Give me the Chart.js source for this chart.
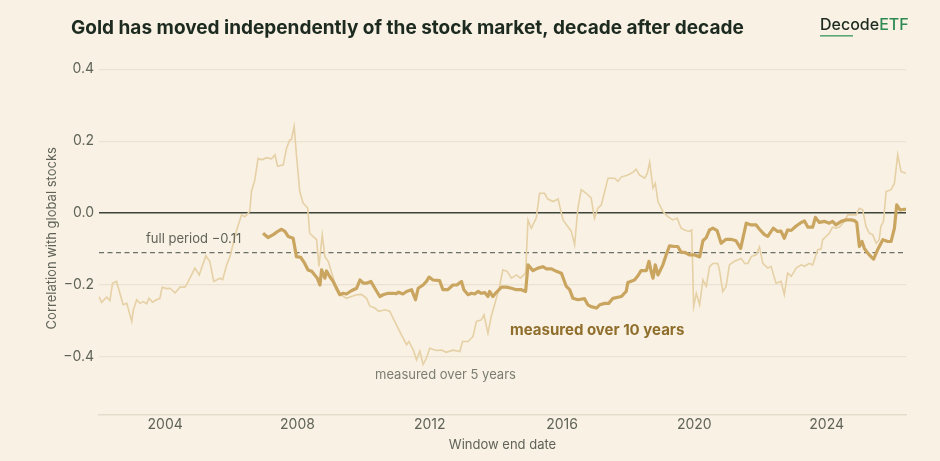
<!DOCTYPE html>
<html>
<head>
<meta charset="utf-8">
<script src="https://cdn.jsdelivr.net/npm/chart.js@4.4.1/dist/chart.umd.min.js"></script>
<style>
  html, body { margin: 0; padding: 0; background: #f9f1e3; }
  #wrap { width: 940px; height: 461px; position: relative; }
</style>
</head>
<body>
<div id="wrap"><canvas id="grafico"></canvas></div>
<script>
// rolling correlation of gold vs global stocks, by window end date (decimal years)
const fiveYearDates = [
  2002.00, 2002.08, 2002.23, 2002.33, 2002.41, 2002.53, 2002.73, 2002.84, 2002.99, 2003.04,
  2003.14, 2003.24, 2003.34, 2003.44, 2003.51, 2003.62, 2003.74, 2003.84, 2003.91, 2004.05,
  2004.15, 2004.30, 2004.45, 2004.60, 2004.70, 2004.90, 2005.03, 2005.23, 2005.35, 2005.47,
  2005.66, 2005.74, 2005.86, 2005.96, 2006.06, 2006.17, 2006.31, 2006.41, 2006.56, 2006.61,
  2006.71, 2006.81, 2006.92, 2007.07, 2007.22, 2007.32, 2007.40, 2007.57, 2007.67, 2007.77,
  2007.82, 2007.90, 2007.97, 2008.07, 2008.17, 2008.31, 2008.37, 2008.47, 2008.58, 2008.65,
  2008.75, 2008.83, 2008.93, 2009.13, 2009.31, 2009.48, 2009.63, 2009.79, 2009.94, 2010.09,
  2010.19, 2010.34, 2010.46, 2010.64, 2010.79, 2010.94, 2011.04, 2011.14, 2011.30, 2011.37,
  2011.50, 2011.60, 2011.70, 2011.80, 2011.90, 2012.00, 2012.20, 2012.35, 2012.50, 2012.70,
  2012.91, 2012.99, 2013.16, 2013.31, 2013.41, 2013.56, 2013.64, 2013.76, 2013.86, 2013.96,
  2014.11, 2014.21, 2014.34, 2014.47, 2014.62, 2014.74, 2014.90, 2014.97, 2015.07, 2015.22,
  2015.32, 2015.47, 2015.57, 2015.73, 2015.88, 2016.03, 2016.28, 2016.38, 2016.48, 2016.58,
  2016.73, 2016.88, 2016.98, 2017.08, 2017.19, 2017.39, 2017.59, 2017.69, 2017.79, 2017.99,
  2018.14, 2018.24, 2018.34, 2018.50, 2018.58, 2018.65, 2018.75, 2018.82, 2018.90, 2019.05,
  2019.20, 2019.35, 2019.48, 2019.60, 2019.70, 2019.85, 2019.92, 2019.98, 2020.06, 2020.16,
  2020.26, 2020.36, 2020.46, 2020.56, 2020.71, 2020.76, 2020.86, 2020.96, 2021.06, 2021.21,
  2021.42, 2021.52, 2021.62, 2021.72, 2021.87, 2021.97, 2022.07, 2022.22, 2022.32, 2022.47,
  2022.62, 2022.72, 2022.82, 2022.93, 2023.08, 2023.23, 2023.33, 2023.48, 2023.58, 2023.73,
  2023.83, 2023.88, 2023.98, 2024.08, 2024.18, 2024.28, 2024.39, 2024.54, 2024.64, 2024.74,
  2024.89, 2024.99, 2025.09, 2025.19, 2025.29, 2025.39, 2025.50, 2025.59, 2025.64, 2025.72,
  2025.80, 2025.95, 2026.05, 2026.15, 2026.25, 2026.40
];
const fiveYearValues = [
  -0.232, -0.248, -0.234, -0.243, -0.195, -0.190, -0.255, -0.251, -0.301, -0.269,
  -0.241, -0.251, -0.246, -0.252, -0.237, -0.248, -0.241, -0.237, -0.206, -0.210,
  -0.209, -0.222, -0.206, -0.206, -0.190, -0.153, -0.172, -0.119, -0.135, -0.190,
  -0.181, -0.185, -0.144, -0.121, -0.084, -0.045, -0.005, -0.010, 0.005, 0.060,
  0.092, 0.152, 0.148, 0.154, 0.151, 0.162, 0.130, 0.134, 0.180, 0.204,
  0.204, 0.241, 0.162, 0.060, 0.028, 0.014, -0.056, -0.065, -0.074, -0.148,
  -0.061, -0.121, -0.134, -0.195, -0.227, -0.237, -0.232, -0.227, -0.226, -0.237,
  -0.259, -0.264, -0.273, -0.269, -0.273, -0.301, -0.320, -0.338, -0.366, -0.357,
  -0.380, -0.408, -0.384, -0.421, -0.403, -0.376, -0.382, -0.381, -0.387, -0.381,
  -0.385, -0.357, -0.357, -0.343, -0.301, -0.297, -0.283, -0.334, -0.287, -0.255,
  -0.204, -0.158, -0.162, -0.181, -0.172, -0.181, -0.167, -0.019, -0.042, -0.014,
  0.055, 0.055, 0.039, 0.032, 0.039, -0.019, -0.051, -0.088, 0.014, 0.065,
  0.055, 0.042, -0.015, 0.013, 0.023, 0.097, 0.097, 0.088, 0.100, 0.106,
  0.113, 0.122, 0.106, 0.097, 0.111, 0.141, 0.069, 0.083, 0.032, 0.004,
  -0.010, -0.019, -0.014, -0.042, -0.047, -0.051, -0.047, -0.260, -0.223, -0.255,
  -0.186, -0.204, -0.149, -0.140, -0.140, -0.158, -0.218, -0.204, -0.144, -0.134,
  -0.126, -0.140, -0.140, -0.121, -0.116, -0.094, -0.140, -0.153, -0.148, -0.195,
  -0.190, -0.227, -0.167, -0.176, -0.153, -0.144, -0.148, -0.140, -0.144, -0.102,
  -0.100, -0.074, -0.065, -0.056, -0.039, -0.042, -0.039, -0.023, -0.005, -0.005,
  -0.005, 0.013, 0.009, -0.037, -0.056, -0.060, -0.084, -0.074, -0.037, -0.023,
  0.060, 0.065, 0.083, 0.162, 0.115, 0.111
];

const tenYearDates = [
  2006.96, 2007.11, 2007.27, 2007.42, 2007.52, 2007.62, 2007.72, 2007.87, 2007.97, 2008.10,
  2008.22, 2008.32, 2008.43, 2008.53, 2008.60, 2008.68, 2008.73, 2008.83, 2008.88, 2008.98,
  2009.08, 2009.18, 2009.28, 2009.38, 2009.48, 2009.63, 2009.79, 2009.89, 2009.99, 2010.09,
  2010.22, 2010.34, 2010.49, 2010.59, 2010.74, 2010.89, 2010.99, 2011.06, 2011.19, 2011.30,
  2011.45, 2011.57, 2011.65, 2011.80, 2011.90, 2011.98, 2012.10, 2012.30, 2012.40, 2012.55,
  2012.70, 2012.82, 2012.96, 2013.03, 2013.16, 2013.26, 2013.36, 2013.46, 2013.56, 2013.66,
  2013.76, 2013.81, 2013.91, 2014.01, 2014.17, 2014.32, 2014.47, 2014.62, 2014.77, 2014.90,
  2014.97, 2015.12, 2015.27, 2015.42, 2015.53, 2015.68, 2015.83, 2015.98, 2016.13, 2016.23,
  2016.33, 2016.48, 2016.68, 2016.78, 2016.88, 2017.04, 2017.14, 2017.29, 2017.41, 2017.54,
  2017.79, 2017.94, 2017.99, 2018.19, 2018.29, 2018.39, 2018.55, 2018.63, 2018.70, 2018.75,
  2018.82, 2018.90, 2019.05, 2019.15, 2019.25, 2019.40, 2019.50, 2019.60, 2019.70, 2019.85,
  2020.00, 2020.16, 2020.26, 2020.36, 2020.46, 2020.56, 2020.69, 2020.81, 2020.96, 2021.11,
  2021.26, 2021.40, 2021.57, 2021.72, 2021.87, 2021.97, 2022.12, 2022.22, 2022.39, 2022.52,
  2022.62, 2022.72, 2022.82, 2022.93, 2023.08, 2023.23, 2023.33, 2023.43, 2023.58, 2023.66,
  2023.78, 2023.93, 2024.08, 2024.18, 2024.28, 2024.44, 2024.59, 2024.74, 2024.84, 2024.91,
  2024.99, 2025.07, 2025.14, 2025.24, 2025.34, 2025.42, 2025.54, 2025.70, 2025.85, 2025.95,
  2026.05, 2026.12, 2026.22, 2026.32, 2026.40
];
const tenYearValues = [
  -0.056, -0.068, -0.060, -0.050, -0.045, -0.051, -0.065, -0.070, -0.121, -0.123,
  -0.140, -0.158, -0.162, -0.173, -0.181, -0.200, -0.158, -0.181, -0.161, -0.177,
  -0.190, -0.209, -0.227, -0.223, -0.225, -0.216, -0.209, -0.186, -0.195, -0.195,
  -0.190, -0.209, -0.232, -0.227, -0.223, -0.223, -0.224, -0.220, -0.225, -0.218,
  -0.213, -0.241, -0.209, -0.200, -0.190, -0.178, -0.186, -0.188, -0.213, -0.213,
  -0.200, -0.200, -0.190, -0.213, -0.227, -0.223, -0.225, -0.218, -0.223, -0.221,
  -0.232, -0.218, -0.232, -0.221, -0.206, -0.206, -0.209, -0.213, -0.213, -0.218,
  -0.144, -0.160, -0.153, -0.149, -0.155, -0.155, -0.162, -0.167, -0.204, -0.213,
  -0.237, -0.241, -0.238, -0.255, -0.260, -0.264, -0.255, -0.251, -0.251, -0.237,
  -0.232, -0.218, -0.193, -0.186, -0.175, -0.160, -0.160, -0.134, -0.165, -0.181,
  -0.144, -0.172, -0.144, -0.116, -0.091, -0.093, -0.093, -0.109, -0.109, -0.116,
  -0.116, -0.122, -0.077, -0.068, -0.047, -0.042, -0.049, -0.084, -0.073, -0.073,
  -0.077, -0.098, -0.028, -0.033, -0.033, -0.045, -0.060, -0.065, -0.042, -0.051,
  -0.050, -0.070, -0.047, -0.048, -0.036, -0.026, -0.022, -0.039, -0.039, -0.012,
  -0.026, -0.023, -0.028, -0.023, -0.033, -0.023, -0.019, -0.019, -0.021, -0.026,
  -0.093, -0.079, -0.098, -0.111, -0.121, -0.128, -0.102, -0.074, -0.079, -0.079,
  -0.042, 0.023, 0.009, 0.010, 0.010
];

const fullPeriod = -0.11;
const xRange = [2002.0, 2026.4];
const yRange = [-0.56, 0.42];
const xTicks = [2004, 2008, 2012, 2016, 2020, 2024];
const yTicks = [-0.4, -0.2, 0.0, 0.2, 0.4];

const FONTE = 'Inter, "DejaVu Sans", sans-serif';
const CINZA = '#5f6358';

function pares(xs, ys) {
  return xs.map(function (x, i) { return { x: x, y: ys[i] }; });
}

function fmtY(v) {
  const s = Math.abs(v).toFixed(1);
  return v < -0.0001 ? '\u2212' + s : s;
}

const textos = {
  id: 'textos',
  afterDatasetsDraw: function (chart) {
    const ctx = chart.ctx;
    const ys = chart.scales.y;
    ctx.save();
    ctx.textBaseline = 'middle';

    ctx.fillStyle = CINZA;
    ctx.font = '13px ' + FONTE;
    ctx.textAlign = 'left';
    ctx.fillText('full period \u22120.11', 146, ys.getPixelForValue(fullPeriod) - 14);

    ctx.fillStyle = '#8f6e2c';
    ctx.font = 'bold 15px ' + FONTE;
    ctx.fillText('measured over 10 years', 510, 330);

    ctx.fillStyle = '#7b7d72';
    ctx.font = '13px ' + FONTE;
    ctx.fillText('measured over 5 years', 375, 375);
    ctx.restore();
  },
  afterDraw: function (chart) {
    const ctx = chart.ctx;
    ctx.save();
    ctx.textBaseline = 'alphabetic';
    ctx.textAlign = 'left';
    ctx.fillStyle = '#1c2a20';
    ctx.font = 'bold 19px ' + FONTE;
    ctx.fillText('Gold has moved independently of the stock market, decade after decade', 71, 34);

    ctx.font = '500 16px ' + FONTE;
    ctx.fillStyle = '#1c2a20';
    ctx.fillText('Decode', 820, 30);
    const w = ctx.measureText('Decode').width;
    ctx.fillStyle = '#2e8a52';
    ctx.fillText('ETF', 820 + w, 30);
    ctx.fillStyle = '#5aa877';
    ctx.fillRect(820, 35, 33, 1.6);
    ctx.restore();
  }
};

new Chart(document.getElementById('grafico'), {
  type: 'line',
  data: {
    datasets: [
      {
        label: 'measured over 10 years',
        data: pares(tenYearDates, tenYearValues),
        borderColor: '#c9a560',
        borderWidth: 3.2,
        pointRadius: 0,
        tension: 0,
        borderJoinStyle: 'round'
      },
      {
        label: 'measured over 5 years',
        data: pares(fiveYearDates, fiveYearValues),
        borderColor: '#e6d0a5',
        borderWidth: 1.6,
        pointRadius: 0,
        tension: 0
      },
      {
        label: 'full period',
        data: pares(xRange, [fullPeriod, fullPeriod]),
        borderColor: '#6b7168',
        borderWidth: 1.3,
        borderDash: [5, 3.5],
        pointRadius: 0
      }
    ]
  },
  options: {
    responsive: true,
    maintainAspectRatio: false,
    animation: false,
    layout: { padding: { top: 62, right: 34, left: 0, bottom: 0 } },
    plugins: {
      legend: { display: false },
      tooltip: { enabled: false }
    },
    scales: {
      x: {
        type: 'linear',
        min: xRange[0],
        max: xRange[1],
        afterBuildTicks: function (s) { s.ticks = xTicks.map(function (v) { return { value: v }; }); },
        afterFit: function (s) { s.height = 46.5; },
        grid: { display: false, drawTicks: false },
        border: { display: true, color: '#e6dccb', width: 1.5 },
        ticks: {
          color: CINZA,
          padding: 2,
          maxRotation: 0,
          font: { family: FONTE, size: 14 },
          callback: function (v) { return String(v); }
        },
        title: {
          display: true,
          text: 'Window end date',
          color: CINZA,
          font: { family: FONTE, size: 13 },
          padding: { top: 0, bottom: 8 }
        }
      },
      y: {
        min: yRange[0],
        max: yRange[1],
        afterBuildTicks: function (s) { s.ticks = yTicks.map(function (v) { return { value: v }; }); },
        afterFit: function (s) { s.width = 99; },
        grid: {
          drawTicks: false,
          color: function (c) { return Math.abs(c.tick.value) < 1e-6 ? '#3e443a' : '#ebe2d1'; },
          lineWidth: function (c) { return Math.abs(c.tick.value) < 1e-6 ? 1.5 : 1.2; }
        },
        border: { display: false },
        ticks: {
          color: CINZA,
          padding: 5,
          font: { family: FONTE, size: 14 },
          callback: function (v) { return fmtY(v); }
        },
        title: {
          display: true,
          text: 'Correlation with global stocks',
          color: CINZA,
          font: { family: FONTE, size: 13 },
          padding: { top: 44, bottom: 0 }
        }
      }
    }
  },
  plugins: [textos]
});
</script>
</body>
</html>
